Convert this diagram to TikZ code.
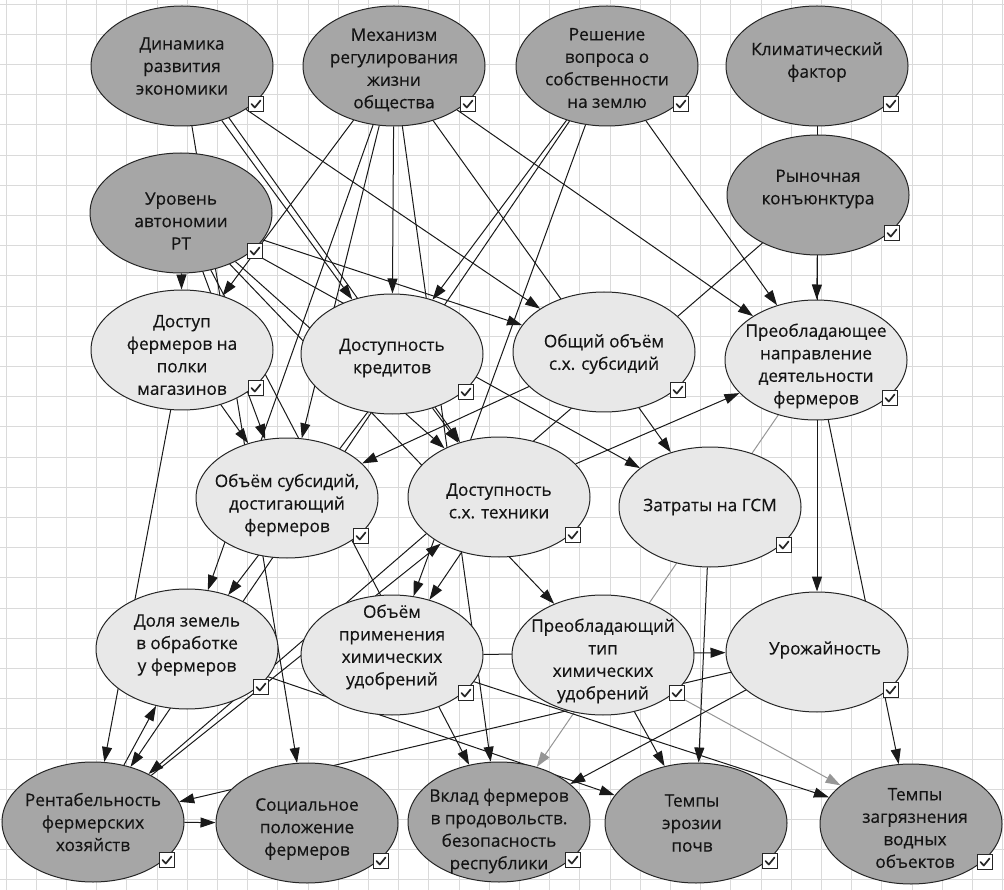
\documentclass[tikz,border=0pt]{standalone}
\usepackage{fontspec}
\setmainfont{Open Sans}[FakeBold=0.35]
\usetikzlibrary{arrows.meta,shapes.geometric,calc}
\definecolor{darkfill}{RGB}{166,166,166}
\definecolor{lightfill}{RGB}{232,232,232}
\definecolor{gridc}{RGB}{218,218,218}
\definecolor{weakc}{RGB}{150,150,150}
\pgfdeclarelayer{gridlayer}
\pgfdeclarelayer{edgelayer}
\pgfsetlayers{gridlayer,edgelayer,main}
\tikzset{
  chkbox/.pic={
    \draw[fill=white,draw=black!85,line width=0.9pt] (-7.5,-7.5) rectangle (7.5,7.5);
    \draw[line width=1.7pt,black!85,line cap=round,line join=round] (-4.5,0) -- (-1.2,3.5) -- (4.5,-3.5);
  }
}
\newcommand\mknode[6]{%
  \node[#1] (#2) at (#3) {};
  \node[txt] (#2t) at ($(#2)+(#4)$) {#5};
  \pic at ($(#2)+(74,38)$) {chkbox};}
\begin{document}
\begin{tikzpicture}[x=1pt,y=-1pt,
  nd/.style={ellipse,draw=black!85,line width=1pt,minimum width=182pt,minimum height=120pt,inner sep=0pt},
  dk/.style={nd,fill=darkfill},
  lt/.style={nd,fill=lightfill},
  txt/.style={inner sep=0pt,align=center,font=\fontsize{17.2}{22.5}\selectfont,text=black!92},
  arr/.style={line width=1pt,black!90,-{Triangle[length=15pt,width=10pt]}},
  garr/.style={line width=1pt,weakc,-{Triangle[length=15pt,width=10pt]}},
  gl/.style={gridc,line width=0.9pt}]
\useasboundingbox (0,0) rectangle (1004,890);
\begin{pgfonlayer}{gridlayer}
\fill[white] (0,0) rectangle (1004,890);
\foreach \i in {0,...,33} \draw[gl] ({6+30.2*\i},0) -- ({6+30.2*\i},890);
\foreach \i in {0,...,29} \draw[gl] (0,{4+30.2*\i}) -- (1004,{4+30.2*\i});
\end{pgfonlayer}

% top row (dark)
\mknode{dk}{D}{182,66}{0,0}{Динамика\\развития\\экономики}{}
\mknode{dk}{M}{394,66}{0,4}{Механизм\\регулирования\\жизни\\общества}{}
\mknode{dk}{R}{607,66}{0,2}{Решение\\вопроса о\\собственности\\на землю}{}
\mknode{dk}{K}{817,66}{0,-4}{Климатический\\фактор}{}
\mknode{dk}{U}{181,213}{0,8}{Уровень\\автономии\\РТ}{}
\mknode{dk}{Ry}{818,195}{0,-6}{Рыночная\\конъюнктура}{}
% middle (light)
\mknode{lt}{Dp}{182,350}{0,5}{Доступ\\фермеров на\\полки\\магазинов}{}
\mknode{lt}{Dk}{392,354}{0,4}{Доступность\\кредитов}{}
\mknode{lt}{Os}{604,352}{0,2}{Общий объём\\с.х. субсидий}{}
\mknode{lt}{Pn}{816,360}{0,6}{Преобладающее\\направление\\деятельности\\фермеров}{}
\mknode{lt}{Ob}{287,498}{0,7}{Объём субсидий,\\достигающий\\фермеров}{}
\mknode{lt}{Dt}{499,497}{0,4}{Доступность\\с.х. техники}{}
\mknode{lt}{Z}{710,507}{0,0}{Затраты на ГСМ}{}
\mknode{lt}{Dz}{187,649}{0,-4}{Доля земель\\в обработке\\у фермеров}{}
\mknode{lt}{Oh}{392,655}{0,-8}{Объём\\применения\\химических\\удобрений}{}
\mknode{lt}{Pt}{603,655}{0,6}{Преобладающий\\тип\\химических\\удобрений}{}
\mknode{lt}{Ur}{817,652}{8,-2}{Урожайность}{}
% bottom (dark)
\mknode{dk}{Rn}{93,822}{0,0}{Рентабельность\\фермерских\\хозяйств}{}
\mknode{dk}{Sp}{307,823}{0,6}{Социальное\\положение\\фермеров}{}
\mknode{dk}{V}{499,822}{0,9}{Вклад фермеров\\в продовольств.\\безопасность\\республики}{}
\mknode{dk}{Te}{696,823}{-4,0}{Темпы\\эрозии\\почв}{}
\mknode{dk}{Tz}{911,824}{4,4}{Темпы\\загрязнения\\водных\\объектов}{}

\begin{pgfonlayer}{edgelayer}
\draw[arr] (U) -- (Dp);
\draw[arr] (M) -- (Dp);
\draw[arr] (D) -- (Dk);
\draw[arr] ($(D)+(10,0)$) -- (Dt);
\draw[arr] (M) -- (Dk);
\draw[arr] (R) -- (Dk);
\draw[arr] (R) -- (Rn);
\draw[arr] ($(Dk)+(20,0)$) -- (Dz);
\draw[arr] (D) -- (Sp);
\draw[arr] (M) -- (Ob);
\draw[arr] (Dp) -- (Ob);
\draw[arr] (M) -- (Dz);
\draw[arr] (M) -- (Z);
\draw[arr] (D) -- (Os);
\draw[arr] (U) -- (Os);
\draw[arr] (U) -- (Z);
\draw[arr] (M) -- (Pn);
\draw[arr] (M) -- (V);
\draw[arr] (R) -- (Pn);
\draw[arr] (R) -- (Oh);
\draw[arr] (Ry) -- (Pn);
\draw[arr] (K) -- (Ur);
\draw[arr] (Ry) -- (Rn);
\draw[arr] (Rn) -- (Dt);
\draw[arr] (Dk) -- (Dt);
\draw[arr] (Dt) -- (Pn);
\draw[arr] (U) -- (Pt);
\draw[arr] (Os) -- (Ob);
\draw[arr] (Pn) -- (Tz);
\draw[garr] (Pn) -- (V);
\draw[garr] (Pt) -- (Tz);
\draw[arr] (Z) -- (Te);
\draw[arr] (Dp) -- (Rn);
\draw[arr] (Rn) -- (Dz);
\draw[arr] (Rn) -- (Sp);
\draw[arr] (Ur) -- (Rn);
\draw[arr] (Oh) -- (Ur);
\draw[arr] (Dz) -- (Te);
\draw[arr] (Oh) -- (Tz);
\draw[arr] (Pt) -- (Te);
\draw[arr] (Ur) -- (V);
\draw[arr] (U) -- (V);
\draw[arr] (Dt) -- (Oh);
\draw[arr] (U) -- (Dt);
\draw[arr] (U) -- (Ob);
\end{pgfonlayer}
\end{tikzpicture}
\end{document}
